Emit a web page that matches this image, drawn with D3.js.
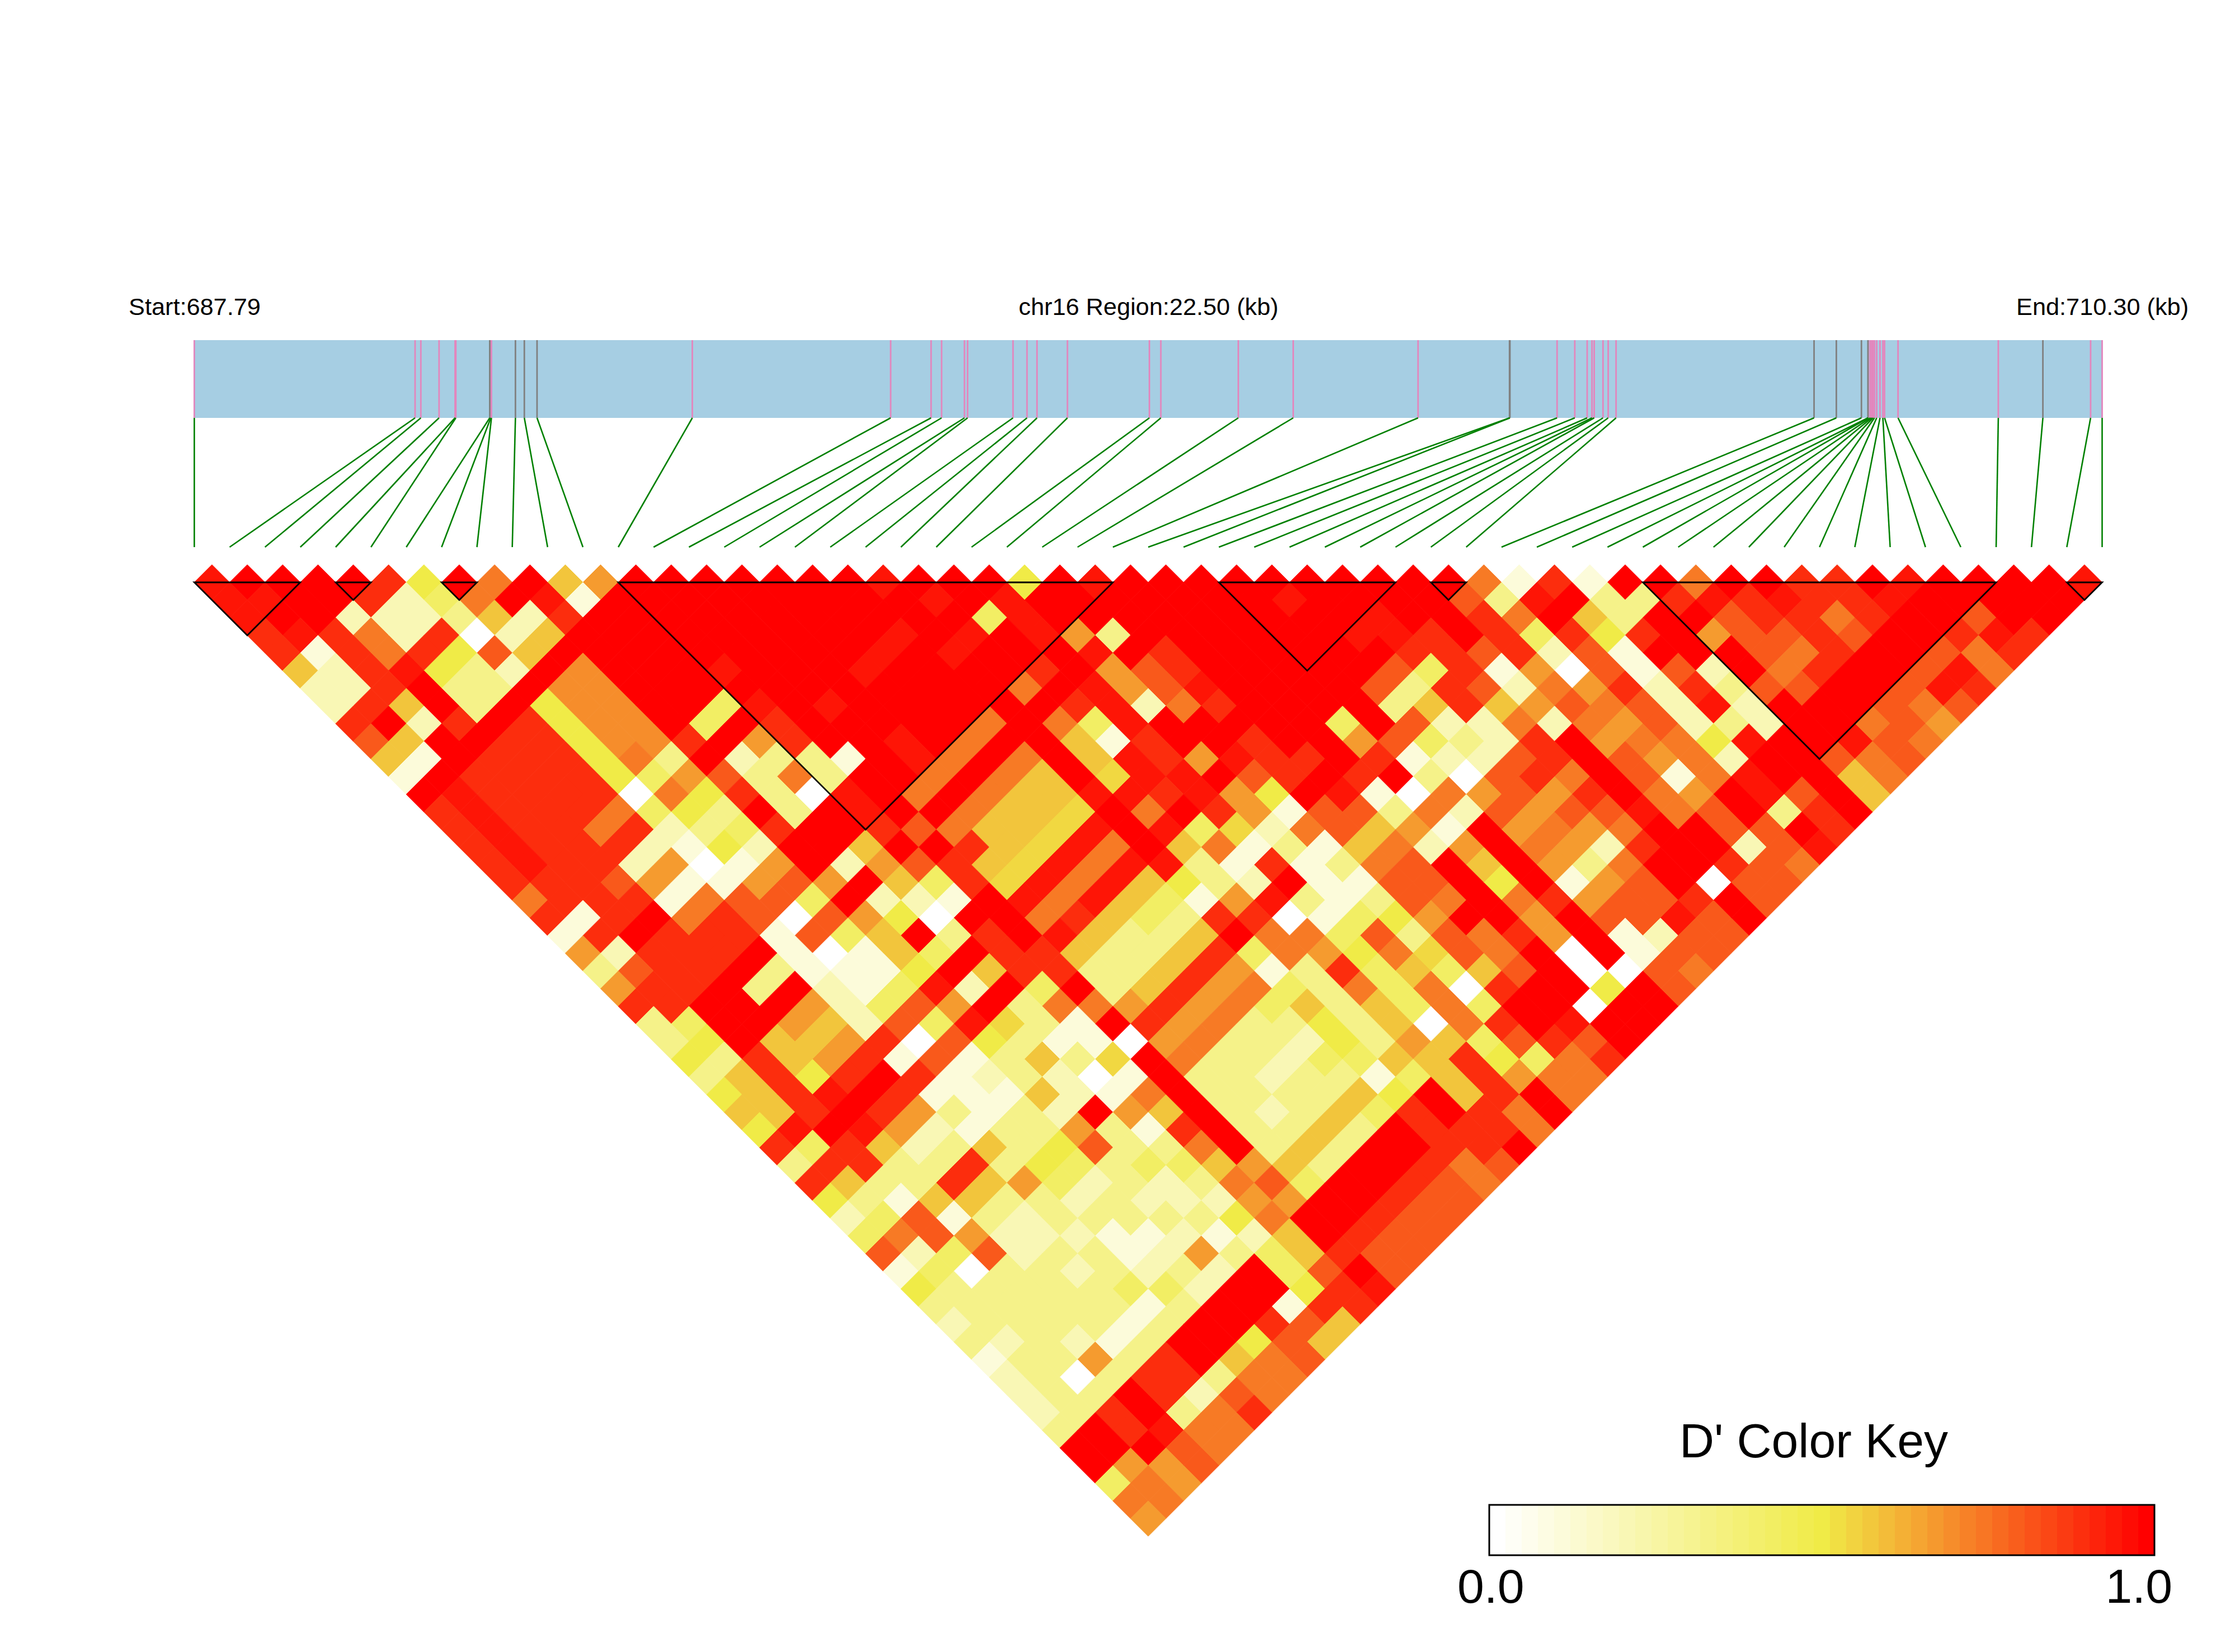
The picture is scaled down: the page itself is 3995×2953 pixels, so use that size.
<!DOCTYPE html>
<html>
<head>
<meta charset="utf-8">
<title>LD heatmap</title>
<script src="https://cdn.jsdelivr.net/npm/d3@7"></script>
<style>
html,body{margin:0;padding:0;background:#fff}
svg{display:block}
text{font-family:"Liberation Sans",Arial,sans-serif;fill:#000}
</style>
</head>
<body>
<svg id="chart" width="3995" height="2953"></svg>
<script>
// SNP positions along the region, in kb
const snpPositions = [687.79,690.395,690.463,690.678,690.867,690.876,691.276,691.288,691.296,691.579,691.684,691.834,693.666,696.006,696.483,696.607,696.877,696.914,697.45,697.615,697.733,698.092,699.059,699.194,700.108,700.756,702.229,703.308,703.313,703.869,704.078,704.224,704.281,704.307,704.411,704.472,704.565,706.901,707.164,707.46,707.537,707.542,707.564,707.581,707.597,707.614,707.64,707.679,707.713,707.733,707.892,709.075,709.601,710.164,710.3];
// SNPs drawn in grey on the region bar; all others are pink
const greySnps = [6,9,10,11,27,28,37,38,39,40,52];
// LD blocks: first and last SNP index
const ldBlocks = [[0,3],[4,5],[7,8],[12,26],[29,34],[35,36],[41,51],[53,54]];
// One character per D' value
const levelChars  = ["0","1","2","3","4","5","e","6","7","d","8","9","a","b","c"];
const levelValues = [0,.1,.2,.32,.42,.5,.54,.58,.67,.7,.74,.81,.905,.955,1];
// D' values, one string per SNP distance (1 = neighbours), left to right
const dPrimeRows = [
"bcccca5c8c67 ccccccc b ccc 5 c b cccccccccc 81a1cc8ccaacbccccb",
"bbcca248cb1ccccc cccc b c b ccccccc b cccc 93bc33ababaabccccc",
"bcc222362a cccccc ccccc 4 b ccccccccc b cc a8c63cc9aa8acc9cc",
"aba82a026 ccccccccc b c b c b 7 3 cccccc bba ca4a5ac799a9ccaba",
"a1a8a596 ccccccccc b c b ccc b c a cccccc aa 9a291ccc98acc98a",
"62ab532cdcccbc cc b cccc a c 7 9 a ccccc 94 a1709192c8acc9b8",
"22ac33cdd ccccccccccc 8 c b 7 9 b cccc 93a 9287a2a399cc9ba",
"2a6c3c5ddcc4bc bccccccab28acccc36 a67989 2b2ccc989",
"ac2aca5ddc4ca ccccc8c84bccccc4c92 28287923 2cc897",
"96ccaa5ddac7a ccbc8cc61acca cc794 32ac7885bccb98",
"61caaa583c23 31cb8c8c6ba7baaca12 29ac9782cc989",
"1caaaa547938 3cc8c86cebbc9acac3 09a8c918bcc68",
"cbaaaa085a3 0bc8c866bbab75cb108 797ac87cb9c6",
"abaaa8453c3 cbcc866ec8ca719938 29799b89c3ac",
"abaa8a234a cca9866ebcb4e289671 c7878cc99ca",
"abaaa2152c c6cca6eb8c68131682 7c872acc29b",
"abaa27017 c279a6eb8bb31a1389c 6c738cca98",
"aaa971179 7c64aeb8b6532c1199 c5c179c099",
"8aaa1899 4c221cb8b6417b31398 c8a799ac9",
"a1ac8a90 9750cc8a643aa01457 cc7c99b9c",
"1acaaa1 946c3acb6 336c884939 8a7c1299",
"72aaac10164caa63 36a48758e98c0c199",
"39aac31115c6aa3 36a713a46469c0098",
"7aac3c214b2c4c3 6a78438480acc5c9",
"aaccc72497c388 7a784636484cc0cc",
"34cc76294be31c a783353608acbcc",
"35c667a095311 078332537649a9c",
"53a67a191363e c83324466a548a",
"36a5aca12320 1c33233146a788",
"56abca111621 8c333365c6ac8",
"66aca73132c 76c32364aca8c",
"5bcb7213373 1ac3363caaa8",
"a4a6236359 338c363ccaac",
"3aa33a3543 446763cca89",
"a633a6742 323894cca98",
"531663323 22277cca99",
"24913233 33358cca99",
"489722211212 6ca99",
"9249233127346a99",
"1403323232c49c9",
"533333442cc5ab",
"33333313cc1aa",
"2333313cca96",
"323213cc596",
"13373ac689",
"2303aa388",
"233ca298",
"23ac38a",
"3cab88",
"ccc98",
"c779",
"487",
"88",
"7"
];
// Header and legend labels
const startLabel  = "Start:687.79";
const regionLabel = "chr16 Region:22.50 (kb)";
const endLabel    = "End:710.30 (kb)";
const keyTitle    = "D' Color Key";
const keyTicks    = ["0.0","1.0"];
const keySteps    = 41;

const svg = d3.select("#chart");
const nGaps = snpPositions.length - 1;

const barX  = d3.scaleLinear().domain([snpPositions[0], snpPositions[nGaps]]).range([347.3, 3757.5]);
const snpX  = d3.scaleLinear().domain([0, nGaps]).range([347.3, 3757.5]);
const halfD = (snpX(1) - snpX(0)) / 2;
const rowY  = d3.scaleLinear().domain([1, nGaps]).range([1041, 1041 + (nGaps - 1) * halfD]);
const colour = d3.scaleLinear().domain([0, .5, 1]).range(["#ffffff", "#f0eb47", "#ff0000"]);
const level = Object.fromEntries(levelChars.map((c, i) => [c, levelValues[i]]));

// header
svg.append("g").attr("font-size", 43.3).selectAll("text")
  .data([[startLabel, 230, "start"], [regionLabel, 2053, "middle"], [endLabel, 3604, "start"]])
  .join("text").attr("x", d => d[1]).attr("y", 563)
  .attr("text-anchor", d => d[2]).text(d => d[0]);

// region bar
svg.append("rect").attr("x", barX.range()[0]).attr("y", 608)
  .attr("width", barX.range()[1] - barX.range()[0]).attr("height", 139).attr("fill", "#a6cee3");

const isGrey = new Set(greySnps);
const snps = snpPositions.map((pos, i) => ({pos, i}));
svg.append("g").selectAll("line").data(snps.slice().sort((a, b) => isGrey.has(a.i) - isGrey.has(b.i))).join("line")
  .attr("x1", d => barX(d.pos)).attr("x2", d => barX(d.pos))
  .attr("y1", 608).attr("y2", 747)
  .attr("stroke", d => isGrey.has(d.i) ? "#808080" : "#e386bd").attr("stroke-width", 2.8);

// connectors
svg.append("g").selectAll("line").data(snps).join("line")
  .attr("x1", d => barX(d.pos)).attr("y1", 747)
  .attr("x2", d => snpX(d.i)).attr("y2", 978)
  .attr("stroke", "#008000").attr("stroke-width", 2.6);

// heatmap cells
const cells = [];
dPrimeRows.forEach((row, r) => {
  const k = r + 1;
  row.replace(/ /g, "").split("").forEach((ch, i) => cells.push({i, k, v: level[ch]}));
});
svg.append("g").selectAll("path").data(cells).join("path")
  .attr("d", c => {
    const cx = snpX(c.i + c.k / 2), cy = rowY(c.k);
    return d3.line()([[cx, cy - halfD], [cx + halfD, cy], [cx, cy + halfD], [cx - halfD, cy]]) + "Z";
  })
  .attr("fill", c => colour(c.v))
  .attr("stroke", c => colour(c.v))
  .attr("stroke-width", 1);

// LD block outlines
svg.append("g").selectAll("path").data(ldBlocks).join("path")
  .attr("d", b => {
    const top = rowY(1);
    return d3.line()([[snpX(b[0]), top], [snpX(b[1]), top], [snpX((b[0] + b[1]) / 2), top + (b[1] - b[0]) * halfD]]) + "Z";
  })
  .attr("fill", "none").attr("stroke", "#000").attr("stroke-width", 2.8).attr("stroke-linejoin", "miter");

// colour key
const keyX = d3.scaleBand().domain(d3.range(keySteps)).range([2662, 3851]);
const key = svg.append("g");
key.selectAll("rect").data(d3.range(keySteps)).join("rect")
  .attr("x", s => keyX(s)).attr("y", 2690).attr("width", keyX.bandwidth() + .5).attr("height", 90)
  .attr("fill", s => colour(s / (keySteps - 1)));
key.append("rect").attr("x", 2662).attr("y", 2690).attr("width", 1189).attr("height", 90)
  .attr("fill", "none").attr("stroke", "#000").attr("stroke-width", 3);
key.append("text").attr("x", 3242).attr("y", 2605).attr("text-anchor", "middle").attr("font-size", 86).text(keyTitle);
key.append("text").attr("x", 2605).attr("y", 2865).attr("font-size", 86).text(keyTicks[0]);
key.append("text").attr("x", 3883).attr("y", 2865).attr("text-anchor", "end").attr("font-size", 86).text(keyTicks[1]);
</script>
</body>
</html>
